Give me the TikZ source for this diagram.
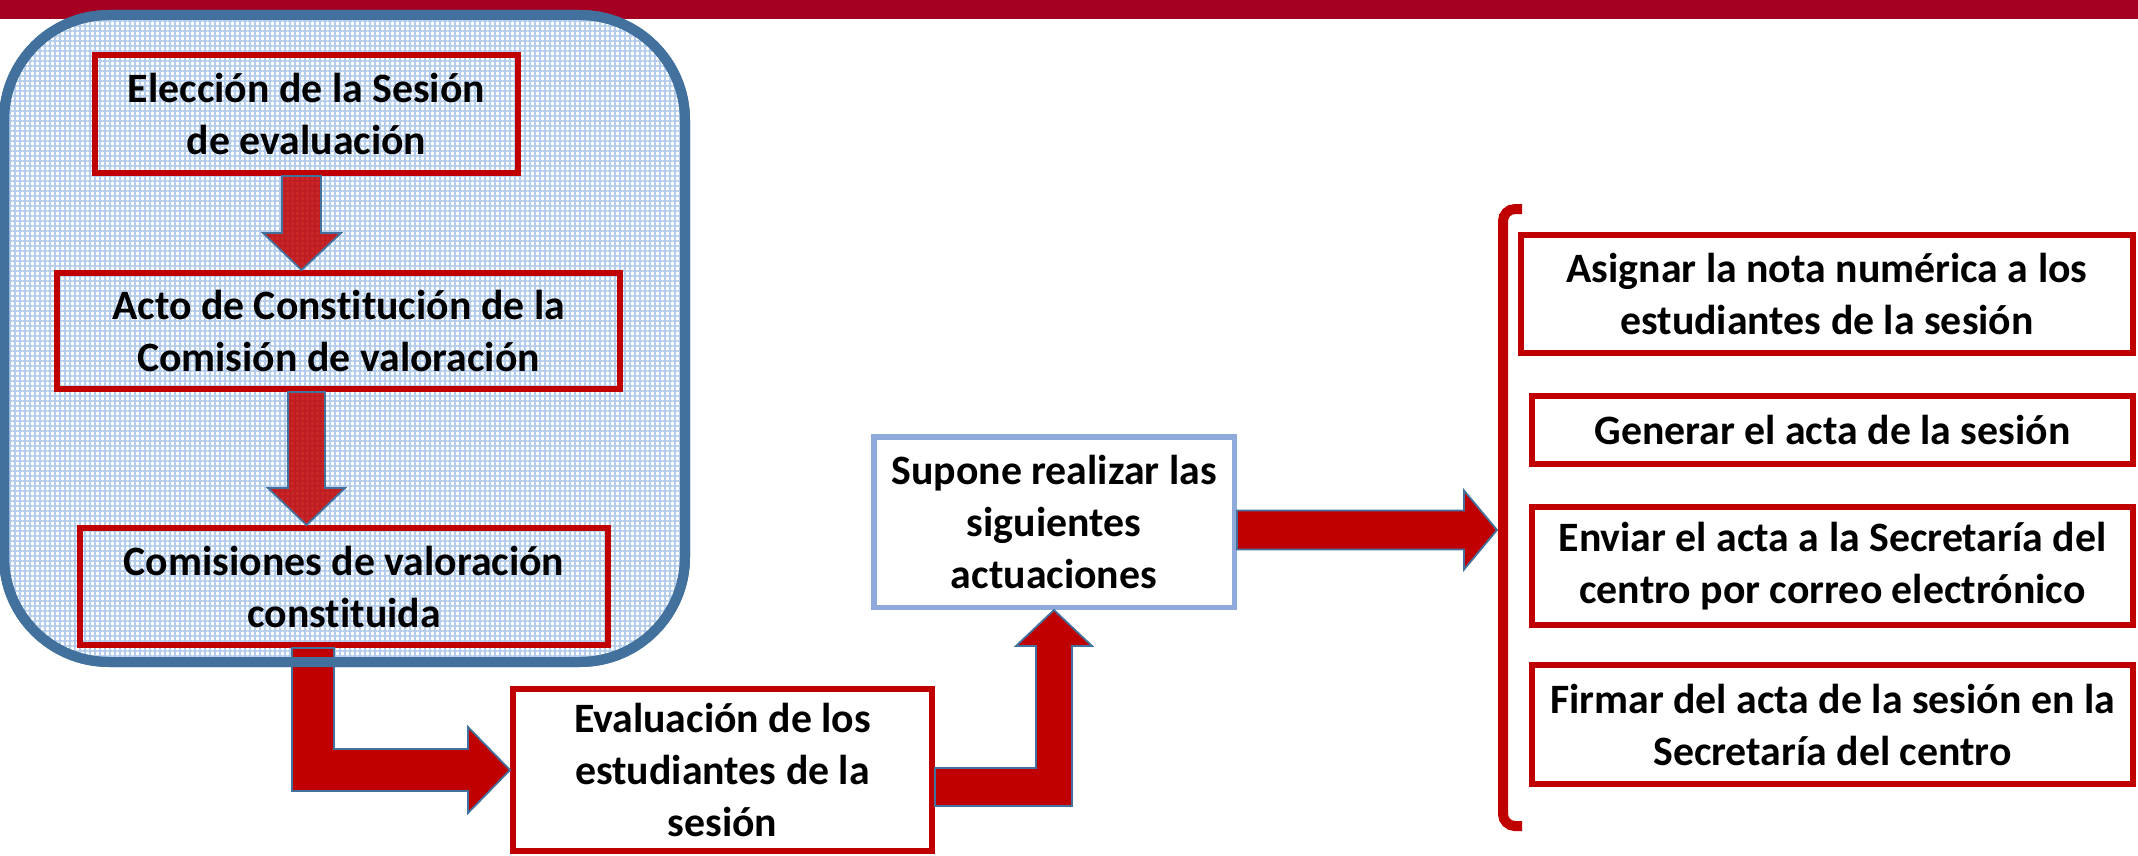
\documentclass[tikz,border=0pt]{standalone}
\usepackage{fontspec}
\setmainfont{Carlito}[Ligatures=NoCommon]
\usetikzlibrary{calc,patterns.meta}
\definecolor{barred}{HTML}{A50021}
\definecolor{boxred}{HTML}{C00000}
\definecolor{steel}{HTML}{41719C}
\definecolor{gridblue}{HTML}{B4CDEC}
\definecolor{supblue}{HTML}{8EAADB}
\begin{document}
\begin{tikzpicture}[x=1pt,y=-1pt,
  txt/.style={font=\fontsize{41.8}{52}\selectfont\bfseries, align=center, text=black},
  redbox/.style={txt, draw=boxred, line width=6pt, inner sep=0pt, rectangle},
  bluebox/.style={txt, draw=supblue, line width=5.5pt, inner sep=0pt, rectangle, fill=white},
  inarrow/.style={fill=boxred, fill opacity=0.85, draw=steel, draw opacity=1, line width=1.8pt, line join=miter},
  outarrow/.style={fill=boxred, draw=steel, line width=1.8pt, line join=miter},
  brace/.style={draw=boxred, line width=10pt, rounded corners=12pt},
  grpstyle/.style={line width=10pt, rounded corners=105pt, inner sep=0pt,
      minimum width=681pt, minimum height=647pt}
]
\useasboundingbox (0,0) rectangle (2138,856);
\fill[barred] (0,0) rectangle (2138,19);
% group container
\node[grpstyle, draw=steel,
      preaction={fill=white},
      preaction={pattern={Lines[angle=0,distance=5pt,line width=1.3pt]}, pattern color=gridblue},
      preaction={pattern={Lines[angle=90,distance=5pt,line width=1.3pt]}, pattern color=gridblue}]
      (grp) at (344.5,338.5) {};
% nodes
\node[redbox, minimum width=423pt, minimum height=118pt] (b1) at (306.5,114) {Elección de la Sesión\\de evaluación};
\node[redbox, minimum width=563pt, minimum height=116pt] (b2) at (338.5,331) {Acto de Constitución de la\\Comisión de valoración};
\node[redbox, minimum width=528pt, minimum height=117pt] (b3) at (344,586.5) {Comisiones de valoración\\constituida};
\node[redbox, fill=white, minimum width=419pt, minimum height=162pt] (b4) at (722.5,770) {Evaluación de los\\estudiantes de la\\sesión};
\node[bluebox, minimum width=360.5pt, minimum height=170.5pt] (b5) at (1054,522) {Supone realizar las\\siguientes\\actuaciones};
\node[redbox, minimum width=612pt, minimum height=118pt] (b6) at (1827,294) {Asignar la nota numérica a los\\estudiantes de la sesión};
\node[redbox, minimum width=601pt, minimum height=68pt] (b7) at (1832.5,430) {Generar el acta de la sesión};
\node[redbox, minimum width=601pt, minimum height=118pt] (b8) at (1832.5,566) {Enviar el acta a la Secretaría del\\centro por correo electrónico};
\node[redbox, minimum width=601pt, minimum height=119pt] (b9) at (1832.5,724.5) {Firmar del acta de la sesión en la\\Secretaría del centro};
% bracket
\draw[brace] (1522,209) -- (1503,209) -- (1503,826) -- (1522,826);
\coordinate (brk) at (1497,530);
% arrows
\draw[inarrow] let \p1=(b1.south), \p2=(b2.north) in
  (282pt,\y1) -- (282pt,\y2+37pt) -- (263pt,\y2+37pt) -- (301.5pt,\y2) -- (341pt,\y2+37pt) -- (321pt,\y2+37pt) -- (321pt,\y1) -- cycle;
\draw[inarrow] let \p1=(b2.south), \p2=(b3.north) in
  (288pt,\y1) -- (288pt,\y2+37pt) -- (268pt,\y2+37pt) -- (306.5pt,\y2) -- (345pt,\y2+37pt) -- (325pt,\y2+37pt) -- (325pt,\y1) -- cycle;
\draw[outarrow] let \p1=(b3.south), \p2=(b4.west) in
  (292pt,\y1) -- (334pt,\y1) -- (334pt,\y2+21pt) -- (\x2-42pt,\y2+21pt) -- (\x2-42pt,\y2+43pt) -- (\x2,\y2) -- (\x2-42pt,\y2-43pt) -- (\x2-42pt,\y2-21pt) -- (292pt,\y2-21pt) -- cycle;
% group border drawn again over the bent arrow
\node[grpstyle, draw=steel] at (grp.center) {};
\draw[outarrow] let \p1=(b4.east), \p2=(b5.south) in
  (\x1,-768pt) -- (\x2-18pt,-768pt) -- (\x2-18pt,\y2-36pt) -- (\x2-38pt,\y2-36pt) -- (\x2,\y2) -- (\x2+38pt,\y2-36pt) -- (\x2+18pt,\y2-36pt) -- (\x2+18pt,-806pt) -- (\x1,-806pt) -- cycle;
\draw[outarrow] let \p1=(b5.east), \p2=(brk) in
  (\x1,\y2+19.5pt) -- (\x2-33pt,\y2+19.5pt) -- (\x2-33pt,\y2+39.5pt) -- (\x2,\y2) -- (\x2-33pt,\y2-39.5pt) -- (\x2-33pt,\y2-19.5pt) -- (\x1,\y2-19.5pt) -- cycle;
\end{tikzpicture}
\end{document}
